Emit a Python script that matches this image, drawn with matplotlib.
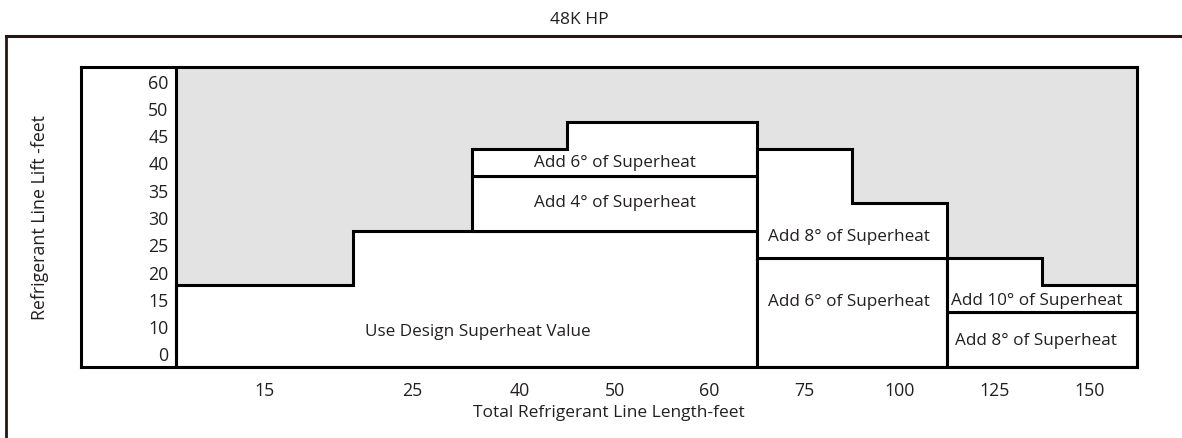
"""Superheat adjustment chart for the 48K HP unit."""

import matplotlib
matplotlib.use('Agg')
import matplotlib.pyplot as plt
from matplotlib.lines import Line2D
import numpy as np

plt.rcParams['font.family'] = ['Open Sans', 'DejaVu Sans']

INK = '#231f20'
GRAY = '#e3e3e3'

# categories
lengths = ['15', '25', '40', '50', '60', '75', '100', '125', '150']
lifts = ['0', '10', '15', '20', '25', '30', '35', '40', '45', '50', '60']

# zones stacked per length column: (label, columns, max lift reached)
design_cols = ['15', '25', '40', '50', '60']
design_top = ['15', '25', '25', '25', '25']
add4_cols = ['40', '50', '60']
add4_top = ['35', '35', '35']
add6a_cols = ['40', '50', '60']
add6a_top = ['40', '45', '45']
add6b_cols = ['75', '100']
add6b_top = ['20', '20']
add8a_cols = ['75', '100']
add8a_top = ['40', '30']
add8b_cols = ['125', '150']
add8b_top = ['10', '10']
add10_cols = ['125', '150']
add10_top = ['20', '15']

zones = [
    ('Use Design Superheat Value', design_cols, design_top),
    ('Add 4° of Superheat', add4_cols, add4_top),
    ('Add 6° of Superheat', add6a_cols, add6a_top),
    ('Add 6° of Superheat', add6b_cols, add6b_top),
    ('Add 8° of Superheat', add8a_cols, add8a_top),
    ('Add 8° of Superheat', add8b_cols, add8b_top),
    ('Add 10° of Superheat', add10_cols, add10_top),
]

# label anchor inside each zone (x in column units, y in row units)
label_pos = [(3.18, 0.82), (4.62, 5.55), (4.62, 7.0), (7.09, 1.92),
             (7.09, 4.3), (9.06, 0.5), (9.06, 1.97)]

# layout: column widths (first two columns are wider)
col_widths = [1.86, 1.26, 1, 1, 1, 1, 1, 1, 1]
edges = np.concatenate([[0], np.cumsum(col_widths)])
centers = (edges[:-1] + edges[1:]) / 2

fig = plt.figure(figsize=(11.82, 4.39), dpi=100)
ax = fig.add_axes([81 / 1182, 1 - 368 / 439, (1137 - 81) / 1182, 300 / 439])
ax.set_facecolor(GRAY)
ax.set_xlim(-1, edges[-1])
ax.set_ylim(-0.5, len(lifts) - 0.5)

# white column holding the lift labels
ax.axvspan(-1, 0, color='white', zorder=1)
ax.axvline(0, color='black', lw=2.2, zorder=3)

# stack zones column by column
current = {c: -0.5 for c in lengths}
for (text, cols, tops), (tx, ty) in zip(zones, label_pos):
    idx = [lengths.index(c) for c in cols]
    bot = [current[c] for c in cols]
    top = [lifts.index(t) + 0.5 for t in tops]
    xs, ys = [edges[idx[0]]], [bot[0]]
    for i, t in zip(idx, top):
        xs += [edges[i], edges[i + 1]]
        ys += [t, t]
    for i, b in reversed(list(zip(idx, bot))):
        xs += [edges[i + 1], edges[i]]
        ys += [b, b]
    ax.fill(xs, ys, facecolor='white', edgecolor='black', lw=2.2, zorder=2)
    ax.text(tx, ty, text, ha='center', va='center', fontsize=12.3, color=INK, zorder=4)
    for c, t in zip(cols, top):
        current[c] = t

ax.set_xticks(centers, labels=lengths)
ax.set_yticks(range(len(lifts)), labels=lifts)
ax.tick_params(axis='x', length=0, pad=10, labelsize=12.8, labelcolor=INK)
ax.tick_params(axis='y', length=0, pad=-63, labelsize=12.8, labelcolor=INK)
for s in ax.spines.values():
    s.set_linewidth(2.2)
    s.set_zorder(5)

ax.set_xlabel('Total Refrigerant Line Length-feet', fontsize=12.5, color=INK, labelpad=4)
ax.set_ylabel('Refrigerant Line Lift -feet', fontsize=12.8, color=INK, labelpad=23)

# outer frame and title
fig.add_artist(Line2D([6 / 1182, 1], [1 - 37 / 439] * 2, color='#231815', lw=2.2))
fig.add_artist(Line2D([6 / 1182] * 2, [0, 1 - 37 / 439], color='#231815', lw=2.0))
fig.text(579 / 1182, 1 - 20 / 439, '48K HP', ha='center', va='center', fontsize=12.5, color=INK)

fig.savefig('out.png', dpi=100)
